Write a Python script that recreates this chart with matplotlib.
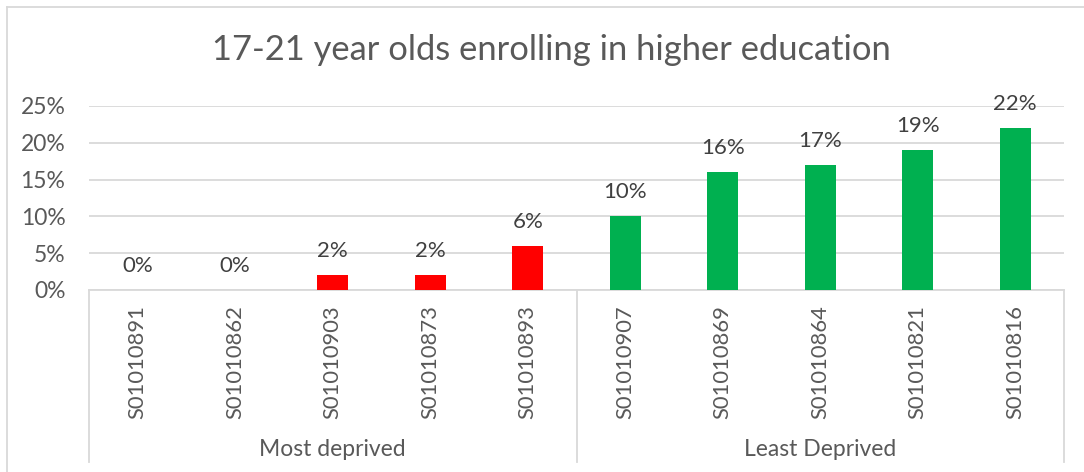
import matplotlib
matplotlib.use("Agg")
from matplotlib import pyplot as plt
from matplotlib.transforms import blended_transform_factory
from matplotlib.lines import Line2D

# chart data
areas = ['S01010891', 'S01010862', 'S01010903', 'S01010873', 'S01010893',
         'S01010907', 'S01010869', 'S01010864', 'S01010821', 'S01010816']
rates = [0, 0, 2, 2, 6, 10, 16, 17, 19, 22]  # percent
groups = ['Most deprived', 'Least Deprived']
group_size = 5
bar_colors = ['#FF0000'] * 5 + ['#00B050'] * 5
y_ticks = [0, 5, 10, 15, 20, 25]

plt.rcParams['font.family'] = ['Lato', 'DejaVu Sans']
grey = '#595959'
line_grey = '#d9d9d9'

fig = plt.figure(figsize=(10.84, 4.72), dpi=100)
ax = fig.add_axes([89 / 1084, 182 / 472, 975 / 1084, 184 / 472])

x = list(range(len(areas)))
ax.bar(x, rates, width=0.32, color=bar_colors, zorder=3)

# data labels above bars
for xi, v in zip(x, rates):
    ax.annotate(f'{v}%', (xi, v), xytext=(0, 17.5), textcoords='offset points',
                ha='center', va='center', fontsize=16, color='#404040')

ax.set_xlim(-0.5, len(areas) - 0.5)
ax.set_ylim(0, 25)
ax.set_yticks(y_ticks)
ax.set_yticklabels([f'{t}%' for t in y_ticks], fontsize=16.5, color=grey)
ax.yaxis.grid(True, color=line_grey, linewidth=1.3, zorder=0)
ax.tick_params(axis='y', length=0, pad=17)
ax.set_xticks(x)
ax.set_xticklabels(areas, rotation=90, fontsize=15.8, color=grey, va='top')
ax.tick_params(axis='x', length=0, pad=11)
for s in ['left', 'right', 'top']:
    ax.spines[s].set_visible(False)
ax.spines['bottom'].set_color(line_grey)
ax.spines['bottom'].set_linewidth(1.3)

# two-level category axis: separators and group names
trans = blended_transform_factory(ax.transData, ax.transAxes)
y_bottom = -172 / 184
for b in [-0.5, group_size - 0.5, len(areas) - 0.5]:
    ax.plot([b, b], [0, y_bottom], transform=trans, color=line_grey,
            linewidth=1.3, clip_on=False)
for i, g in enumerate(groups):
    mid = i * group_size + (group_size - 1) / 2
    ax.text(mid, -159 / 184, g, transform=trans, ha='center', va='center',
            fontsize=16.5, color=grey)

fig.suptitle('17-21 year olds enrolling in higher education', x=551 / 1084,
             y=1 - 50 / 472, va='center', fontsize=24.8, color=grey)

# chart area border (top and left edges visible)
fig.add_artist(Line2D([7 / 1084, 7 / 1084], [0, 1 - 7 / 472], color=line_grey,
                      linewidth=1.3, transform=fig.transFigure))
fig.add_artist(Line2D([7 / 1084, 1], [1 - 7 / 472, 1 - 7 / 472], color=line_grey,
                      linewidth=1.3, transform=fig.transFigure))

plt.savefig('out.png', dpi=100)
